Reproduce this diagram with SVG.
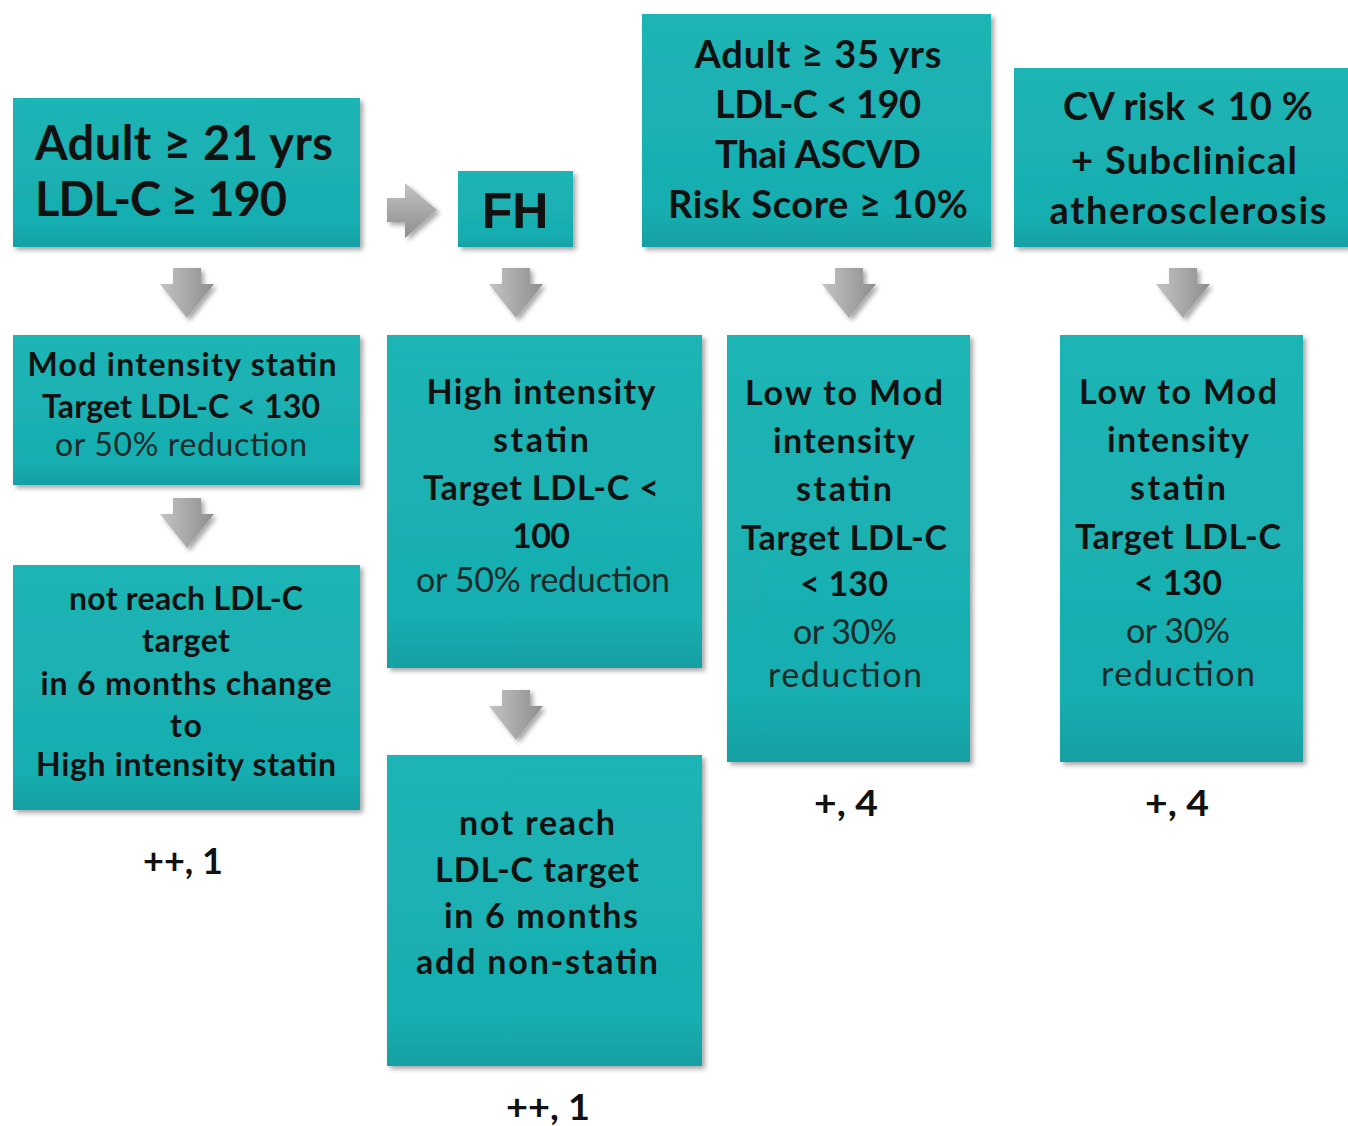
<svg xmlns="http://www.w3.org/2000/svg" width="1348" height="1126" viewBox="0 0 1348 1126">
<defs>
<linearGradient id="teal" x1="0" y1="0" x2="0" y2="1">
<stop offset="0" stop-color="#1DB4B4"/>
<stop offset="0.85" stop-color="#18AEB0"/>
<stop offset="1" stop-color="#12A0A3"/>
</linearGradient>
<linearGradient id="grayV" x1="0" y1="0" x2="1" y2="0">
<stop offset="0" stop-color="#C4C4C4"/>
<stop offset="0.5" stop-color="#A8A8A8"/>
<stop offset="1" stop-color="#8E8E8E"/>
</linearGradient>
<linearGradient id="grayH" x1="0" y1="0" x2="0" y2="1">
<stop offset="0" stop-color="#C4C4C4"/>
<stop offset="0.5" stop-color="#A8A8A8"/>
<stop offset="1" stop-color="#8E8E8E"/>
</linearGradient>
<filter id="sh" x="-10%" y="-10%" width="125%" height="125%">
<feGaussianBlur in="SourceAlpha" stdDeviation="2.5"/>
<feOffset dx="3" dy="3" result="b"/>
<feComponentTransfer><feFuncA type="linear" slope="0.35"/></feComponentTransfer>
<feMerge><feMergeNode/><feMergeNode in="SourceGraphic"/></feMerge>
</filter>
<path id="down" d="M-14,0 H14 V16 H27 L0,50 L-27,16 H-14 Z"/>
</defs>
<style>
.box{fill:url(#teal);filter:url(#sh)}
.arr{fill:url(#grayV);filter:url(#sh)}
text{font-family:Lato,"Open Sans","Liberation Sans",sans-serif;fill:#111;text-anchor:middle}
.b{font-weight:bold}
.r{font-weight:normal;fill:#1a2a2a}
.big{font-size:47px}
.t36{font-size:38px}
.t30{font-size:32px}
.t32{font-size:34px}
.lab{font-size:37px;font-weight:bold}
</style>
<rect width="1348" height="1126" fill="#fff"/>

<g id="connectors">
<path class="arr" d="M387,198 H405 V183 L437,210 L405,238 V222 H387 Z" style="fill:url(#grayH)"/>
<use href="#down" class="arr" x="187" y="268"/>
<use href="#down" class="arr" x="516" y="268"/>
<use href="#down" class="arr" x="849" y="268"/>
<use href="#down" class="arr" x="1183" y="268"/>
<use href="#down" class="arr" x="187" y="498"/>
<use href="#down" class="arr" x="516" y="690"/>
</g>

<g id="nodeA">
<rect class="box" x="13" y="98" width="347" height="149"/>
<text class="b big" x="35" y="160" style="text-anchor:start" textLength="298">Adult ≥ 21 yrs</text>
<text class="b big" x="35" y="216" style="text-anchor:start" textLength="252">LDL-C ≥ 190</text>
</g>

<g id="nodeFH">
<rect class="box" x="458" y="171" width="115" height="76"/>
<text class="b" x="515" y="228" style="font-size:50px;font-family:'Liberation Sans',Arial,sans-serif">FH</text>
</g>

<g id="nodeC">
<rect class="box" x="642" y="14" width="349" height="233"/>
<text class="b t36" x="818" y="68" textLength="247">Adult ≥ 35 yrs</text>
<text class="b t36" x="818" y="118" textLength="206">LDL-C &lt; 190</text>
<text class="b t36" x="818" y="168" textLength="206">Thai ASCVD</text>
<text class="b t36" x="818" y="218" textLength="300">Risk Score ≥ 10%</text>
</g>

<g id="nodeD">
<rect class="box" x="1014" y="68" width="334" height="179"/>
<text class="b t36" x="1188" y="120" textLength="250">CV risk &lt; 10 %</text>
<text class="b t36" x="1184" y="174" textLength="226">+ Subclinical</text>
<text class="b t36" x="1188" y="224" textLength="277">atherosclerosis</text>
</g>

<g id="nodeA2">
<rect class="box" x="13" y="335" width="347" height="150"/>
<text class="b t30" x="182" y="376" textLength="309">Mod intensity statin</text>
<text class="b t30" x="181" y="418" textLength="278">Target LDL-C &lt; 130</text>
<text class="r t30" x="181" y="456" textLength="252">or 50% reduction</text>
</g>

<g id="nodeA3">
<rect class="box" x="13" y="565" width="347" height="245"/>
<text class="b t30" x="186" y="610" textLength="234">not reach LDL-C</text>
<text class="b t30" x="186" y="652" textLength="88">target</text>
<text class="b t30" x="186" y="695" textLength="291">in 6 months change</text>
<text class="b t30" x="186" y="737" textLength="32">to</text>
<text class="b t30" x="186" y="776" textLength="300">High intensity statin</text>
</g>

<g id="nodeB2">
<rect class="box" x="387" y="335" width="315" height="333"/>
<text class="b t32" x="541" y="404" textLength="229">High intensity</text>
<text class="b t32" x="541" y="452" textLength="96">statin</text>
<text class="b t32" x="541" y="500" textLength="236">Target LDL-C &lt;</text>
<text class="b t32" x="541" y="548" textLength="58">100</text>
<text class="r t32" x="543" y="592" textLength="254">or 50% reduction</text>
</g>

<g id="nodeB3">
<rect class="box" x="387" y="755" width="315" height="311"/>
<text class="b t32" x="537" y="835" textLength="156">not reach</text>
<text class="b t32" x="537" y="882" textLength="204">LDL-C target</text>
<text class="b t32" x="541" y="928" textLength="194">in 6 months</text>
<text class="b t32" x="537" y="974" textLength="242">add non-statin</text>
</g>

<g id="nodeC2">
<rect class="box" x="727" y="335" width="243" height="427"/>
<text class="b t32" x="844" y="405" textLength="198">Low to Mod</text>
<text class="b t32" x="844" y="453" textLength="142">intensity</text>
<text class="b t32" x="844" y="501" textLength="96">statin</text>
<text class="b t32" x="844" y="550" textLength="206">Target LDL-C</text>
<text class="b t32" x="844" y="596" textLength="88">&lt; 130</text>
<text class="r t32" x="845" y="644" textLength="104">or 30%</text>
<text class="r t32" x="845" y="687" textLength="154">reduction</text>
</g>

<g id="nodeD2">
<rect class="box" x="1060" y="335" width="243" height="427"/>
<text class="b t32" x="1178" y="404" textLength="198">Low to Mod</text>
<text class="b t32" x="1178" y="452" textLength="142">intensity</text>
<text class="b t32" x="1178" y="500" textLength="96">statin</text>
<text class="b t32" x="1178" y="549" textLength="206">Target LDL-C</text>
<text class="b t32" x="1178" y="595" textLength="88">&lt; 130</text>
<text class="r t32" x="1178" y="643" textLength="104">or 30%</text>
<text class="r t32" x="1178" y="686" textLength="154">reduction</text>
</g>

<g id="labels">
<text class="lab" x="183" y="874" textLength="80" lengthAdjust="spacingAndGlyphs">++, 1</text>
<text class="lab" x="548" y="1120" textLength="84" lengthAdjust="spacingAndGlyphs">++, 1</text>
<text class="lab" x="846" y="816" textLength="64" lengthAdjust="spacingAndGlyphs">+, 4</text>
<text class="lab" x="1177" y="816" textLength="64" lengthAdjust="spacingAndGlyphs">+, 4</text>
</g>
</svg>
